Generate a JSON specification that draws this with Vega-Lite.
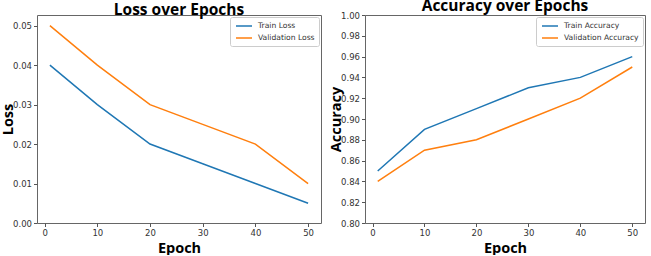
{
  "$schema": "https://vega.github.io/schema/vega-lite/v6.json",
  "autosize": {"type": "pad"},
  "padding": {"left": 0, "top": -2, "right": 5, "bottom": 0},
  "background": "white",
  "bounds": "flush",
  "spacing": 44,
  "datasets": {
    "loss": [
      {"epoch": 1, "series": "Train Loss", "value": 0.04},
      {"epoch": 10, "series": "Train Loss", "value": 0.03},
      {"epoch": 20, "series": "Train Loss", "value": 0.02},
      {"epoch": 30, "series": "Train Loss", "value": 0.015},
      {"epoch": 40, "series": "Train Loss", "value": 0.01},
      {"epoch": 50, "series": "Train Loss", "value": 0.005},
      {"epoch": 1, "series": "Validation Loss", "value": 0.05},
      {"epoch": 10, "series": "Validation Loss", "value": 0.04},
      {"epoch": 20, "series": "Validation Loss", "value": 0.03},
      {"epoch": 30, "series": "Validation Loss", "value": 0.025},
      {"epoch": 40, "series": "Validation Loss", "value": 0.02},
      {"epoch": 50, "series": "Validation Loss", "value": 0.01}
    ],
    "acc": [
      {"epoch": 1, "series": "Train Accuracy", "value": 0.85},
      {"epoch": 10, "series": "Train Accuracy", "value": 0.89},
      {"epoch": 20, "series": "Train Accuracy", "value": 0.91},
      {"epoch": 30, "series": "Train Accuracy", "value": 0.93},
      {"epoch": 40, "series": "Train Accuracy", "value": 0.94},
      {"epoch": 50, "series": "Train Accuracy", "value": 0.96},
      {"epoch": 1, "series": "Validation Accuracy", "value": 0.84},
      {"epoch": 10, "series": "Validation Accuracy", "value": 0.87},
      {"epoch": 20, "series": "Validation Accuracy", "value": 0.88},
      {"epoch": 30, "series": "Validation Accuracy", "value": 0.90},
      {"epoch": 40, "series": "Validation Accuracy", "value": 0.92},
      {"epoch": 50, "series": "Validation Accuracy", "value": 0.95}
    ]
  },
  "config": {
    "view": {"stroke": "#666", "strokeWidth": 1},
    "font": "DejaVu Sans",
    "title": {"font": "Open Sans", "fontWeight": "bold", "fontSize": 15.5, "color": "black", "offset": -3, "anchor": "middle"},
    "axis": {
      "grid": false,
      "domain": false,
      "tickColor": "#555",
      "tickSize": 3.5,
      "labelFont": "DejaVu Sans",
      "labelFontSize": 8.5,
      "labelColor": "#333",
      "labelPadding": 2,
      "titleFont": "Open Sans",
      "titleFontWeight": "bold",
      "titleFontSize": 14.5,
      "titleColor": "black"
    },
    "legend": {
      "orient": "top-right",
      "offset": 2,
      "title": null,
      "symbolType": "M-0.75,0H3.25",
      "symbolSize": 64,
      "symbolStrokeWidth": 1.5,
      "labelFont": "DejaVu Sans",
      "labelFontSize": 7.6,
      "labelColor": "#333",
      "labelOffset": 14,
      "rowPadding": 3,
      "padding": 4,
      "fillColor": "white",
      "strokeColor": "#ccc",
      "cornerRadius": 2
    }
  },
  "hconcat": [
    {
      "width": 284,
      "height": 208,
      "title": "Loss over Epochs",
      "data": {"name": "loss"},
      "mark": {"type": "line", "strokeWidth": 1.5},
      "encoding": {
        "x": {"field": "epoch", "type": "quantitative", "scale": {"domain": [-1.45, 52.45], "nice": false, "zero": false},
              "axis": {"values": [0, 10, 20, 30, 40, 50], "title": "Epoch", "titlePadding": 4}},
        "y": {"field": "value", "type": "quantitative", "scale": {"domain": [0, 0.0527], "nice": false},
              "axis": {"values": [0, 0.01, 0.02, 0.03, 0.04, 0.05], "format": ".2f", "title": "Loss", "titlePadding": -3}},
        "color": {"field": "series", "type": "nominal",
                  "scale": {"domain": ["Train Loss", "Validation Loss"], "range": ["#1f77b4", "#ff7f0e"]}}
      }
    },
    {
      "width": 280,
      "height": 208,
      "title": "Accuracy over Epochs",
      "data": {"name": "acc"},
      "mark": {"type": "line", "strokeWidth": 1.5},
      "encoding": {
        "x": {"field": "epoch", "type": "quantitative", "scale": {"domain": [-1.45, 52.45], "nice": false, "zero": false},
              "axis": {"values": [0, 10, 20, 30, 40, 50], "title": "Epoch", "titlePadding": 4}},
        "y": {"field": "value", "type": "quantitative", "scale": {"domain": [0.8, 1.0], "nice": false, "zero": false},
              "axis": {"values": [0.8, 0.82, 0.84, 0.86, 0.88, 0.9, 0.92, 0.94, 0.96, 0.98, 1.0], "format": ".2f", "title": "Accuracy", "titlePadding": -3}},
        "color": {"field": "series", "type": "nominal",
                  "scale": {"domain": ["Train Accuracy", "Validation Accuracy"], "range": ["#1f77b4", "#ff7f0e"]}}
      }
    }
  ],
  "resolve": {"scale": {"color": "independent"}, "legend": {"color": "independent"}}
}
